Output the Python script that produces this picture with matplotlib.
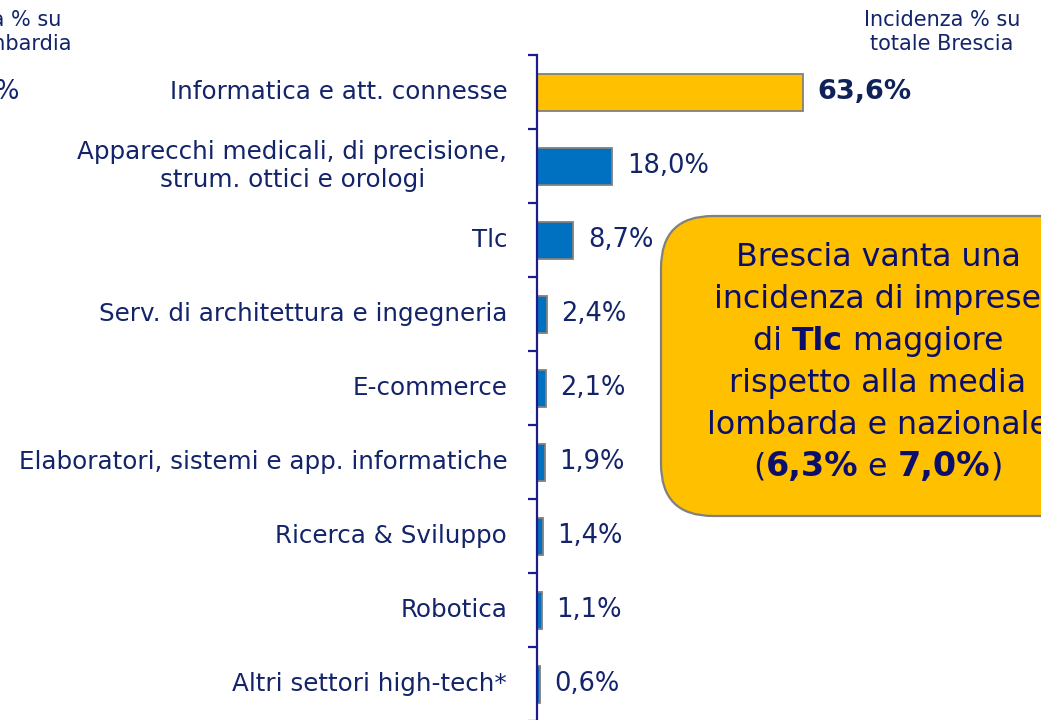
import matplotlib.pyplot as plt
from matplotlib.patches import FancyBboxPatch
from matplotlib.transforms import IdentityTransform
import numpy as np

categories = [
    "Informatica e att. connesse",
    "Apparecchi medicali, di precisione,\nstrum. ottici e orologi",
    "Tlc",
    "Serv. di architettura e ingegneria",
    "E-commerce",
    "Elaboratori, sistemi e app. informatiche",
    "Ricerca & Sviluppo",
    "Robotica",
    "Altri settori high-tech*",
]
values = [63.6, 18.0, 8.7, 2.4, 2.1, 1.9, 1.4, 1.1, 0.6]
value_labels = ["63,6%", "18,0%", "8,7%", "2,4%", "2,1%", "1,9%", "1,4%", "1,1%", "0,6%"]
highlight = 0

header_right = "Incidenza % su\ntotale Brescia"
header_left = "Incidenza % su\ntotale Lombardia"
# each line: list of (text, bold)
box_lines = [
    [("Brescia vanta una", False)],
    [("incidenza di imprese", False)],
    [("di ", False), ("Tlc", True), (" maggiore", False)],
    [("rispetto alla media", False)],
    [("lombarda e nazionale", False)],
    [("(", False), ("6,3%", True), (" e ", False), ("7,0%", True), (")", False)],
]

NAVY = "#13246a"
AXIS = "#1c1c8c"
YELLOW = "#FFC000"
BLUE = "#0070C0"
EDGE = "#808080"
BOXTXT = "#0b0f6b"

plt.rcParams["font.family"] = ["DejaVu Sans"]

W, H = 1041, 720
fig = plt.figure(figsize=(W / 100, H / 100), dpi=100)
fig.patch.set_facecolor("white")

# axes: axis line at x=537px, from y=55px down past the bottom
ax = fig.add_axes([537 / W, -1 / H, (W - 537) / W, 666 / H])
ax.set_facecolor("none")
px_per_pct = 266 / 63.6
ax.set_xlim(0, (W - 537) / px_per_pct)
n = len(categories)
ax.set_ylim(n - 0.5, -0.5)

y = np.arange(n)
colors = [YELLOW if i == highlight else BLUE for i in range(n)]
ax.barh(y, values, height=0.5, color=colors, edgecolor=EDGE, linewidth=1.3)

for s in ["top", "right", "bottom"]:
    ax.spines[s].set_visible(False)
ax.spines["left"].set_color(AXIS)
ax.spines["left"].set_linewidth(1.6)
ax.set_xticks([])
ax.set_yticks(np.arange(-0.5, n, 1.0))
ax.set_yticklabels([])
ax.tick_params(axis="y", length=6.5, width=1.6, color=AXIS, direction="out")

ytrans = ax.get_yaxis_transform()
for i, (cat, v, lab) in enumerate(zip(categories, values, value_labels)):
    ax.annotate(cat, xy=(0, i), xycoords=ytrans, xytext=(-21.5, 0),
                textcoords="offset points", ha="right", va="center",
                multialignment="center", fontsize=17.75, color=NAVY,
                linespacing=1.2)
    bold = i == highlight
    ax.annotate(lab, xy=(v, i), xytext=(10.5, 0), textcoords="offset points",
                ha="left", va="center", fontsize=19.5 if bold else 18.5,
                fontweight="bold" if bold else "normal",
                color="#0f2158" if bold else NAVY)

# column headers
fig.text(942 / W, 1 - 32 / H, header_right, ha="center", va="center",
         multialignment="center", fontsize=15, color=NAVY, linespacing=1.3)
fig.text(-17 / W, 1 - 32 / H, header_left, ha="center", va="center",
         multialignment="center", fontsize=15, color=NAVY, linespacing=1.3)
fig.text(19 / W, 1 - 92 / H, "%", ha="right", va="center", fontsize=18.5,
         color=NAVY)

# callout box
box = FancyBboxPatch((661, H - 516), 440, 300,
                     boxstyle="round,pad=0,rounding_size=52",
                     transform=IdentityTransform(), facecolor=YELLOW,
                     edgecolor=EDGE, linewidth=1.6)
fig.add_artist(box)

renderer = fig.canvas.get_renderer()


def text_width(s, size, bold):
    # measure with guard chars so leading/trailing spaces count
    kw = dict(fontsize=size, fontweight="bold" if bold else "normal")
    t1 = fig.text(0, 0, "|" + s + "|", **kw)
    t2 = fig.text(0, 0, "||", **kw)
    w = t1.get_window_extent(renderer).width - t2.get_window_extent(renderer).width
    t1.remove()
    t2.remove()
    return w


reg_size = 22.8
xc = 878
for k, parts in enumerate(box_lines):
    yc = H - (258 + 42 * k)
    bold_size = 24 if k == len(box_lines) - 1 else reg_size
    sizes = [bold_size if b else reg_size for _, b in parts]
    widths = [text_width(s, sz, b) for (s, b), sz in zip(parts, sizes)]
    x = xc - sum(widths) / 2
    for (s, b), sz, w in zip(parts, sizes, widths):
        fig.text(x, yc - 8, s, ha="left", va="baseline", fontsize=sz,
                 fontweight="bold" if b else "normal", color=BOXTXT,
                 transform=IdentityTransform())
        x += w

fig.savefig("out.png", dpi=100, facecolor="white")
